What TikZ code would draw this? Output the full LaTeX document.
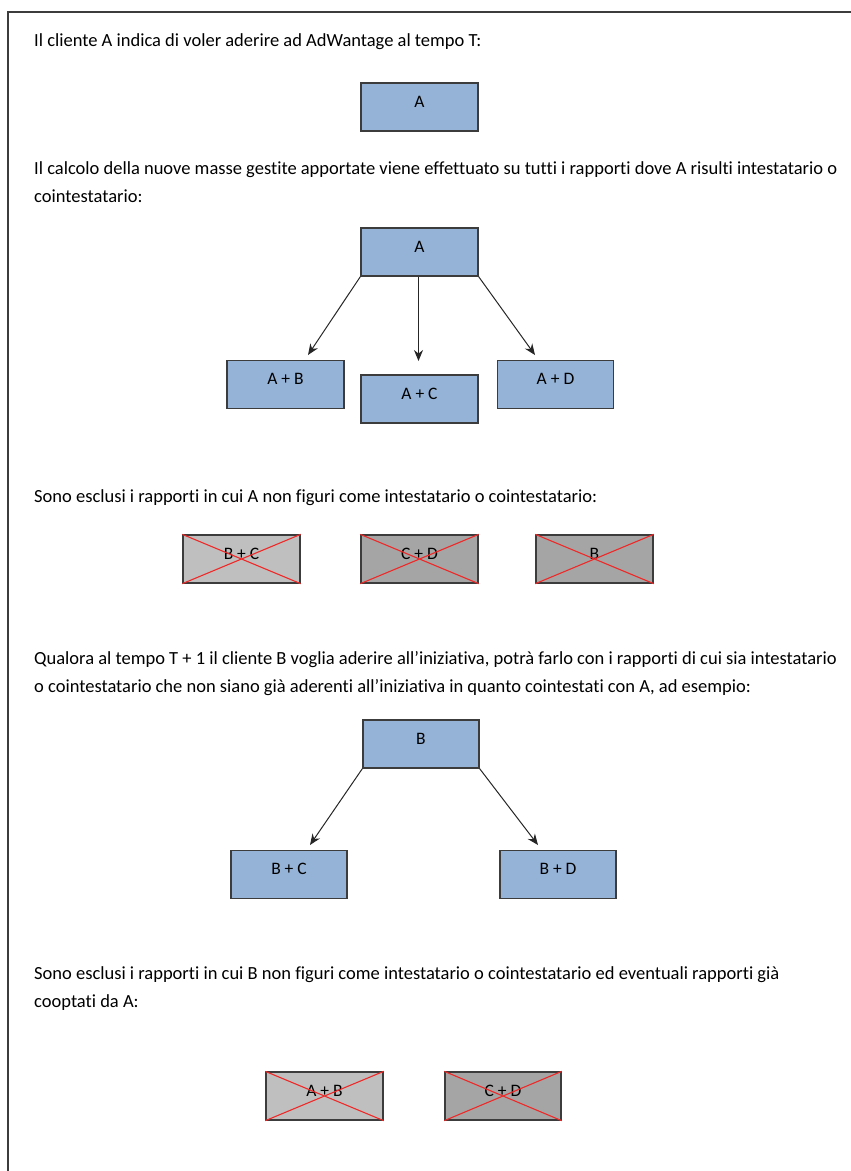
\documentclass[tikz,border=0pt]{standalone}
\usepackage{fontspec}
\setmainfont{Carlito}[Ligatures=NoCommon]
\usetikzlibrary{arrows.meta}
\definecolor{boxblue}{HTML}{95B3D7}
\definecolor{lgray}{HTML}{BFBFBF}
\definecolor{dgray}{HTML}{A5A5A5}
\definecolor{edge}{HTML}{3C3C3C}
\definecolor{xred}{HTML}{F02828}
\tikzset{
  txt/.style={anchor=base west, inner sep=0pt, font=\fontsize{18.5}{22}\selectfont},
  bx/.style={draw=edge, line width=1.3pt, rectangle, inner xsep=0pt, inner ysep=0pt,
    minimum width=117pt, text height=24pt, text depth=24pt,
    font=\fontsize{17.5}{20}\selectfont},
  bluebox/.style={bx, fill=boxblue},
  lbox/.style={bx, fill=lgray},
  dbox/.style={bx, fill=dgray},
  xline/.style={draw=xred, line width=1.1pt},
  arr/.style={draw=black!85, line width=1pt, -{Stealth[length=11pt,width=9pt]}},
}
\newcommand{\crossit}[1]{\draw[xline] (#1.north west) -- (#1.south east) (#1.south west) -- (#1.north east);}
\begin{document}
\begin{tikzpicture}[x=1pt,y=-1pt]
\useasboundingbox (0,0) rectangle (851,1171);
% frame
\draw[edge, line width=1.3pt] (8,1172) -- (8,12) -- (852,12);

\node[txt] (t1) at (34,46.5) {Il cliente A indica di voler aderire ad AdWantage al tempo T:};
\node[bluebox] (A1) at (419.5,107) {A};

\node[txt] (t2a) at (34,174) {Il calcolo della nuove masse gestite apportate viene effettuato su tutti i rapporti dove A risulti intestatario o};
\node[txt] (t2b) at (34,202) {cointestatario:};

\node[bluebox] (A2) at (419.5,252) {A};
\node[bluebox] (AB) at (285.5,384.5) {A + B};
\node[bluebox] (AC) at (419.5,399) {A + C};
\node[bluebox, minimum width=116pt] (AD) at (555.5,384.5) {A + D};
\coordinate (eAB) at (308,355);
\coordinate (eAC) at (418.5,361);
\coordinate (eAD) at (535,355);
\draw[arr] (A2.south west) -- (eAB);
\draw[arr] (A2.south -| eAC) -- (eAC);
\draw[arr] (A2.south east) -- (eAD);

\node[txt] (t3) at (34,502) {Sono esclusi i rapporti in cui A non figuri come intestatario o cointestatario:};
\node[lbox] (BC1) at (241.5,559) {B + C};
\node[dbox] (CD1) at (419.5,559) {C + D};
\node[dbox] (B1) at (594.5,559) {B};
\crossit{BC1}
\crossit{CD1}
\crossit{B1}

\node[txt] (t4a) at (34,664) {Qualora al tempo T + 1 il cliente B voglia aderire all’iniziativa, potrà farlo con i rapporti di cui sia intestatario};
\node[txt] (t4b) at (34,692) {o cointestatario che non siano già aderenti all’iniziativa in quanto cointestati con A, ad esempio:};

\node[bluebox, minimum width=116pt] (Bt) at (421,744) {B};
\node[bluebox, minimum width=116pt] (BC2) at (289,874.5) {B + C};
\node[bluebox, minimum width=116pt] (BD2) at (558,874.5) {B + D};
\coordinate (eBC) at (310,845);
\coordinate (eBD) at (538,845);
\draw[arr] (Bt.south west) -- (eBC);
\draw[arr] (Bt.south east) -- (eBD);

\node[txt] (t5a) at (34,979) {Sono esclusi i rapporti in cui B non figuri come intestatario o cointestatario ed eventuali rapporti già};
\node[txt] (t5b) at (34,1007) {cooptati da A:};

\node[lbox] (AB3) at (324.5,1096) {A + B};
\node[dbox, minimum width=116pt] (CD3) at (503,1096) {C + D};
\crossit{AB3}
\crossit{CD3}
\end{tikzpicture}
\end{document}
